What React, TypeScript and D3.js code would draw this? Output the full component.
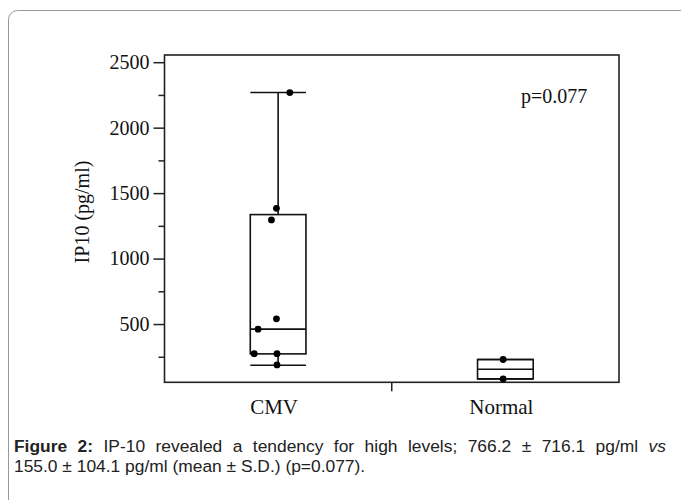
import React, { useEffect, useRef } from "react";
import * as d3 from "d3";

// groups on the x axis
const groups = ["CMV", "Normal"];
// box statistics: [min, q1, median, q3, max]
const boxStats = [
  [185, 272, 461, 1336, 2268],
  [81, 81, 155, 229, 229],
];
// individual measurements (pg/ml)
const cmvPoints = [2268, 1384, 1295, 540, 461, 274, 274, 188];
const normalPoints = [229, 81];
// horizontal jitter of each dot, as a share of the box width
const cmvJitter = [0.21, -0.03, -0.12, -0.03, -0.36, -0.43, -0.02, -0.02];
const normalJitter = [-0.04, -0.04];
const majorTicks = [500, 1000, 1500, 2000, 2500];
const minorTicks = [250, 750, 1250, 1750, 2250];

const App = () => {
  const svgRef = useRef<SVGSVGElement>(null);

  useEffect(() => {
    const svg = d3.select(svgRef.current);
    svg.selectAll("*").remove();

    const left = 164.5;
    const right = 619;
    const top = 55;
    const bottom = 382.3;
    const serif = "'Liberation Serif', 'Times New Roman', serif";

    // card frame
    svg.append("rect")
      .attr("x", 8.5).attr("y", 10.5)
      .attr("width", 720).attr("height", 540)
      .attr("rx", 9)
      .attr("fill", "#fff")
      .attr("stroke", "#9a9a9a")
      .attr("stroke-width", 1);

    const x = d3.scaleBand().domain(groups).range([left, right]).padding(0);
    const y = d3.scaleLinear().domain([55, 2555]).range([bottom, top]);
    const boxW = x.bandwidth() * 0.245;
    const cx = (g: string) => (x(g) as number) + x.bandwidth() / 2;

    // y axis, major and minor ticks
    const yAxis = svg.append("g")
      .attr("transform", `translate(${left},0)`)
      .call(d3.axisLeft(y).tickValues(majorTicks).tickSize(11).tickPadding(4).tickFormat(d3.format("d")));
    yAxis.select(".domain").remove();
    yAxis.selectAll("line").attr("stroke", "#222").attr("stroke-width", 1.5);
    yAxis.selectAll("text")
      .style("font-family", serif)
      .style("font-size", "20px")
      .attr("fill", "#111");

    const yMinor = svg.append("g")
      .attr("transform", `translate(${left},0)`)
      .call(d3.axisLeft(y).tickValues(minorTicks).tickSize(6).tickFormat(() => ""));
    yMinor.select(".domain").remove();
    yMinor.selectAll("line").attr("stroke", "#222").attr("stroke-width", 1.5);

    // divider tick between the groups
    svg.append("line")
      .attr("x1", (x("Normal") as number)).attr("x2", (x("Normal") as number))
      .attr("y1", bottom).attr("y2", bottom + 9)
      .attr("stroke", "#222").attr("stroke-width", 1.5);

    // group labels
    svg.selectAll(".glabel")
      .data(groups)
      .join("text")
      .attr("x", (d) => cx(d) - 4)
      .attr("y", 414)
      .attr("text-anchor", "middle")
      .style("font-family", serif)
      .style("font-size", "21px")
      .attr("fill", "#111")
      .text((d) => d);

    // y label
    svg.append("text")
      .attr("transform", `translate(89,212) rotate(-90)`)
      .attr("text-anchor", "middle")
      .style("font-family", serif)
      .style("font-size", "20px")
      .attr("fill", "#111")
      .text("IP10 (pg/ml)");

    // plot frame
    svg.append("rect")
      .attr("x", left).attr("y", top)
      .attr("width", right - left).attr("height", bottom - top)
      .attr("fill", "none")
      .attr("stroke", "#222")
      .attr("stroke-width", 1.6);

    // box plots
    groups.forEach((g, i) => {
      const [mn, q1, med, q3, mx] = boxStats[i];
      const c = cx(g);
      const gg = svg.append("g")
        .attr("stroke", "#111")
        .attr("stroke-width", 1.6)
        .attr("fill", "none");
      gg.append("line").attr("x1", c).attr("x2", c).attr("y1", y(q3)).attr("y2", y(mx));
      gg.append("line").attr("x1", c).attr("x2", c).attr("y1", y(q1)).attr("y2", y(mn));
      gg.append("line").attr("x1", c - boxW / 2).attr("x2", c + boxW / 2).attr("y1", y(mx)).attr("y2", y(mx));
      gg.append("line").attr("x1", c - boxW / 2).attr("x2", c + boxW / 2).attr("y1", y(mn)).attr("y2", y(mn));
      gg.append("rect")
        .attr("x", c - boxW / 2).attr("y", y(q3))
        .attr("width", boxW).attr("height", y(q1) - y(q3));
      gg.append("line").attr("x1", c - boxW / 2).attr("x2", c + boxW / 2).attr("y1", y(med)).attr("y2", y(med));
    });

    // dots
    const dots = [
      ...cmvPoints.map((v, i) => ({ g: "CMV", v, j: cmvJitter[i] })),
      ...normalPoints.map((v, i) => ({ g: "Normal", v, j: normalJitter[i] })),
    ];
    svg.selectAll(".dot")
      .data(dots)
      .join("circle")
      .attr("cx", (d) => cx(d.g) + d.j * boxW)
      .attr("cy", (d) => y(d.v))
      .attr("r", 3.4)
      .attr("fill", "#000");

    // p value
    svg.append("text")
      .attr("x", 521).attr("y", 103)
      .style("font-family", serif)
      .style("font-size", "20px")
      .attr("fill", "#111")
      .text("p=0.077");

    // caption (first line justified to the card width)
    const capStyle = (t: d3.Selection<SVGTextElement, unknown, null, undefined>) =>
      t.style("font-family", "'Liberation Sans', Arial, sans-serif")
        .style("font-size", "17.4px")
        .attr("fill", "#222");
    const line1 = svg.append("text").attr("x", 14).attr("y", 452).call(capStyle);
    line1.append("tspan").attr("font-weight", "bold").text("Figure 2:");
    line1.append("tspan").text(" IP-10 revealed a tendency for high levels; 766.2 ± 716.1 pg/ml ");
    line1.append("tspan").attr("font-style", "italic").text("vs");
    const node = line1.node() as SVGTextElement;
    const w = node.getComputedTextLength();
    const gap = (666 - 14 - w) / 13;
    if (gap > 0) line1.attr("word-spacing", gap);
    svg.append("text").attr("x", 14).attr("y", 472).call(capStyle)
      .text("155.0 ± 104.1 pg/ml (mean ± S.D.) (p=0.077).");
  }, []);

  return (
    <svg
      ref={svgRef}
      width={681}
      height={500}
      style={{ position: "absolute", left: 0, top: 0, background: "#fff" }}
    />
  );
};

export default App;
